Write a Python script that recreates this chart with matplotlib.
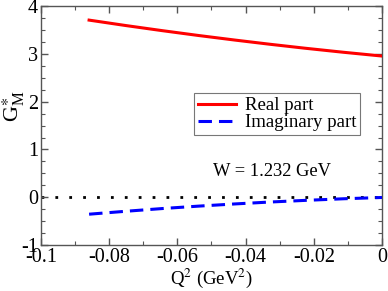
import matplotlib
matplotlib.use("Agg")
import matplotlib.pyplot as plt
import numpy as np

plt.rcParams['font.family'] = ['Liberation Serif', 'DejaVu Serif']
plt.rcParams['mathtext.fontset'] = 'stix'

q2 = [-0.0859, -0.0752, -0.0645, -0.0538, -0.0431, -0.0328, -0.0226, -0.0113, 0.0]
real_part = [3.707, 3.594, 3.487, 3.385, 3.289, 3.201, 3.119, 3.034, 2.955]
imag_part = [-0.355, -0.294, -0.237, -0.186, -0.140, -0.100, -0.066, -0.032, -0.005]

fig = plt.figure(figsize=(3.88, 2.91), dpi=100)
ax = fig.add_axes([0.1057, 0.158, 0.8788, 0.821])

ax.axhline(0, color='black', lw=2.0, linestyle=(0, (1, 4)), zorder=1)
ax.plot(q2, real_part, color='#ff0000', lw=2.2, label='Real part', zorder=3)
ax.plot(q2, imag_part, color='#0000ff', lw=2.2, linestyle=(0, (4.4, 2.3)),
        label='Imaginary part', zorder=3)

ax.set_xlim(-0.1, 0.0)
ax.set_ylim(-1, 4)
ax.set_xticks([-0.1, -0.08, -0.06, -0.04, -0.02, 0])
ax.set_xticklabels(['-0.1', '-0.08', '-0.06', '-0.04', '-0.02', '0'])
ax.set_yticks([-1, 0, 1, 2, 3, 4])
ax.set_yticklabels(['-1', '0', '1', '2', '3', '4'])
ax.set_xticks(np.arange(-0.1, 0.001, 0.01), minor=True)
ax.set_yticks(np.arange(-1, 4.001, 0.25), minor=True)
ax.tick_params(which='both', direction='in', top=True, right=True,
               labelsize=14.5, color='#555555', pad=2)
ax.tick_params(which='major', length=5, width=1)
ax.tick_params(which='minor', length=3, width=0.8)
for s in ax.spines.values():
    s.set_color('#555555')
    s.set_linewidth(1.0)

ax.set_xlabel('Q$^2$ (GeV$^2$)', fontsize=13.5, labelpad=0)
ax.set_ylabel(r'G$_\mathregular{M}^{\ast}$', fontsize=16, labelpad=0)
ax.yaxis.set_label_coords(-0.042, 0.58)

ax.text(-0.0323, 0.53, 'W = 1.232 GeV', fontsize=13.3, ha='center', va='center')

leg = ax.legend(loc='upper left', bbox_to_anchor=(0.5, 0.68),
                bbox_transform=fig.transFigure, fontsize=13.6, fancybox=False,
                frameon=True, handlelength=2.0, handletextpad=0.5,
                borderpad=0.2, labelspacing=0.0, borderaxespad=0)
leg.get_frame().set_edgecolor('#555555')
leg.get_frame().set_linewidth(0.8)

fig.savefig('out.png', dpi=100)
